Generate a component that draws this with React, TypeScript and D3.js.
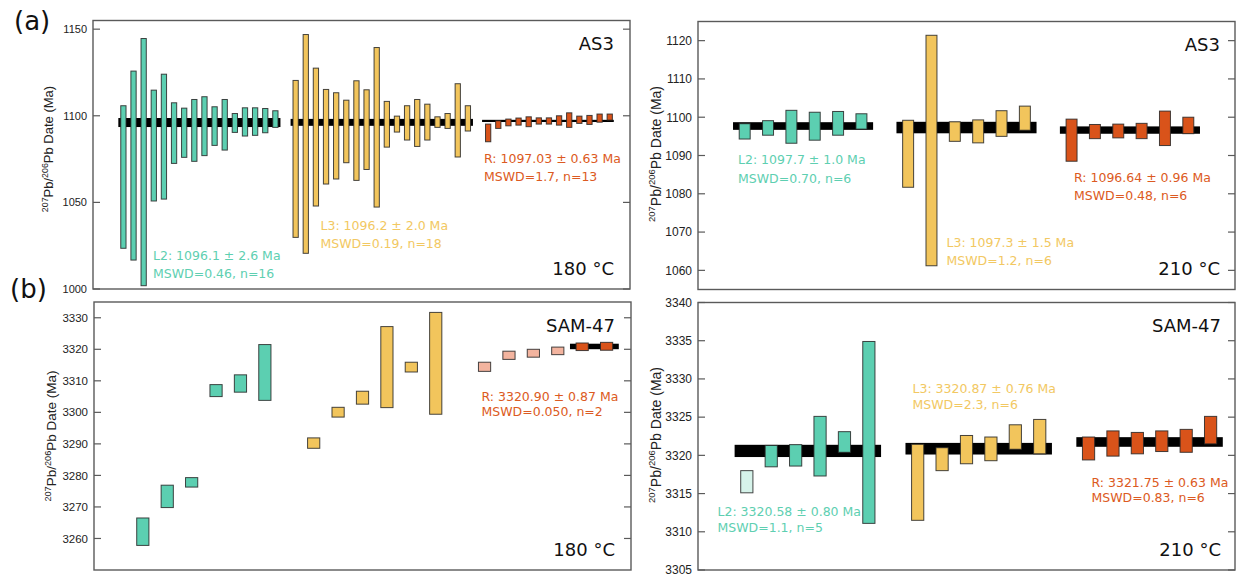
import React from "react";
import * as d3 from "d3";

type Range = [number, number]; // [low, high] of each 2σ date

// (a) AS3, 180 °C
const as3_180_L2: Range[] = [
  [1023.5, 1105.8], [1016.7, 1125.8], [1001.9, 1144.6], [1050.8, 1114.8],
  [1051.9, 1124.0], [1072.5, 1107.5], [1076.0, 1104.4], [1073.7, 1109.4],
  [1077.0, 1111.0], [1082.9, 1105.2], [1080.2, 1109.4], [1090.4, 1101.3],
  [1088.3, 1104.6], [1088.7, 1104.6], [1090.2, 1104.2], [1093.3, 1102.9],
];
const as3_180_L3: Range[] = [
  [1029.8, 1120.4], [1020.6, 1146.9], [1047.9, 1127.5], [1060.6, 1115.2],
  [1063.5, 1113.3], [1072.9, 1109.0], [1062.7, 1120.2], [1069.0, 1115.0],
  [1047.3, 1139.4], [1081.9, 1108.3], [1090.6, 1099.8], [1086.0, 1105.8],
  [1082.3, 1109.4], [1086.0, 1106.7], [1093.3, 1099.4], [1092.7, 1101.3],
  [1076.2, 1118.5], [1091.2, 1105.8],
];
const as3_180_R: Range[] = [
  [1085.0, 1095.2], [1092.7, 1097.1], [1094.2, 1098.1], [1094.6, 1098.7],
  [1093.7, 1099.4], [1095.2, 1098.8], [1095.2, 1098.8], [1094.6, 1100.0],
  [1093.3, 1101.7], [1095.6, 1099.8], [1095.0, 1100.2], [1096.3, 1101.0],
  [1097.5, 1101.0],
];

// (a) AS3, 210 °C
const as3_210_L2: Range[] = [
  [1094.3, 1098.3], [1095.3, 1099.1], [1093.2, 1101.8],
  [1094.0, 1101.3], [1095.3, 1101.5], [1096.9, 1100.9],
];
const as3_210_L3: Range[] = [
  [1081.7, 1099.2], [1061.2, 1121.4], [1093.7, 1098.8],
  [1093.3, 1099.3], [1095.0, 1101.7], [1096.6, 1102.9],
];
const as3_210_R: Range[] = [
  [1088.5, 1099.5], [1094.4, 1098.1], [1094.6, 1098.2],
  [1094.4, 1098.4], [1092.6, 1101.6], [1095.7, 1100.0],
];

// (b) SAM-47, 180 °C
const sam_180_L2: Range[] = [
  [3257.8, 3266.5], [3269.8, 3276.9], [3276.3, 3279.3],
  [3305.0, 3308.8], [3306.4, 3311.9], [3303.8, 3321.5],
];
const sam_180_L3: Range[] = [
  [3288.6, 3291.9], [3298.5, 3301.6], [3302.6, 3306.7],
  [3301.5, 3327.2], [3312.8, 3315.9], [3299.4, 3331.7],
];
const sam_180_R: Range[] = [
  [3313.0, 3315.9], [3316.8, 3319.4], [3317.5, 3320.0],
  [3318.3, 3320.7], [3319.6, 3322.0], [3319.7, 3322.2],
];

// (b) SAM-47, 210 °C
const sam_210_L2: Range[] = [
  [3315.1, 3318.0], [3318.5, 3321.3], [3318.6, 3321.4],
  [3317.3, 3325.1], [3320.4, 3323.1], [3311.1, 3334.9],
];
const sam_210_L3: Range[] = [
  [3311.5, 3321.45], [3318.0, 3321.0], [3318.9, 3322.6],
  [3319.3, 3322.4], [3320.8, 3324.0], [3320.2, 3324.7],
];
const sam_210_R: Range[] = [
  [3319.4, 3322.4], [3319.9, 3323.2], [3320.2, 3323.0],
  [3320.5, 3323.2], [3320.4, 3323.4], [3321.5, 3325.1],
];

// weighted means [mean, 2σ]
const mean_as3_180 = { L2: [1096.1, 2.6], L3: [1096.2, 2.0], R: [1097.03, 0.63] };
const mean_as3_210 = { L2: [1097.7, 1.0], L3: [1097.3, 1.5], R: [1096.64, 0.96] };
const mean_sam_180 = { R: [3320.9, 0.87] };
const mean_sam_210 = { L2: [3320.58, 0.8], L3: [3320.87, 0.76], R: [3321.75, 0.63] };

const ticks_as3_180 = [1000, 1050, 1100, 1150];
const ticks_as3_210 = [1060, 1070, 1080, 1090, 1100, 1110, 1120];
const ticks_sam_180 = [3260, 3270, 3280, 3290, 3300, 3310, 3320, 3330];
const ticks_sam_210 = [3305, 3310, 3315, 3320, 3325, 3330, 3335, 3340];

const TEAL = "#5ccfb1";
const YELLOW = "#f2c55c";
const ORANGE = "#d9531a";
const TEAL_X = "#d6f3ea";
const ORANGE_X = "#f3b49f";
const TEXT_TEAL = "#5ecfb1";
const TEXT_YELLOW = "#f2c862";
const TEXT_ORANGE = "#dc5a22";

interface Group {
  bars: Range[];
  start: number;
  fill: string;
  excluded?: number[];
  exFill?: string;
  band?: { m: number[]; from: number; to: number };
}
interface Note { x: number; y: number; lines: string[]; color: string; gap: number }
interface PanelCfg {
  left: number; right: number; top: number; bottom: number;
  xDomain: [number, number]; yDomain: [number, number];
  ticks: number[]; tickFont: number; labelFont: number;
  labelX: number; labelY: number;
  barFrac: number;
  groups: Group[];
  notes: Note[];
  sample: string; temp: string; textRight: number;
}

const panels: PanelCfg[] = [
  {
    left: 93, right: 630, top: 20.5, bottom: 289,
    xDomain: [-3, 50], yDomain: [1000, 1155],
    ticks: ticks_as3_180, tickFont: 11, labelFont: 13, labelX: 53, labelY: 149,
    barFrac: 0.52,
    groups: [
      { bars: as3_180_L2, start: 0, fill: TEAL, band: { m: mean_as3_180.L2, from: 0, to: 15 } },
      { bars: as3_180_L3, start: 17, fill: YELLOW, band: { m: mean_as3_180.L3, from: 17, to: 34 } },
      { bars: as3_180_R, start: 36, fill: ORANGE, band: { m: mean_as3_180.R, from: 35.9, to: 47.9 } },
    ],
    notes: [
      { x: 153, y: 259.5, lines: ["L2: 1096.1 ± 2.6 Ma", "MSWD=0.46, n=16"], color: TEXT_TEAL, gap: 18.5 },
      { x: 320.5, y: 230, lines: ["L3: 1096.2 ± 2.0 Ma", "MSWD=0.19, n=18"], color: TEXT_YELLOW, gap: 18.2 },
      { x: 484, y: 163, lines: ["R: 1097.03 ± 0.63 Ma", "MSWD=1.7, n=13"], color: TEXT_ORANGE, gap: 18 },
    ],
    sample: "AS3", temp: "180 °C", textRight: 614,
  },
  {
    left: 698, right: 1235, top: 21.5, bottom: 289.5,
    xDomain: [-2, 21], yDomain: [1055, 1125],
    ticks: ticks_as3_210, tickFont: 12, labelFont: 14, labelX: 661, labelY: 154,
    barFrac: 0.47,
    groups: [
      { bars: as3_210_L2, start: 0, fill: TEAL, band: { m: mean_as3_210.L2, from: 0, to: 5 } },
      { bars: as3_210_L3, start: 7, fill: YELLOW, band: { m: mean_as3_210.L3, from: 7, to: 12 } },
      { bars: as3_210_R, start: 14, fill: ORANGE, band: { m: mean_as3_210.R, from: 14, to: 19 } },
    ],
    notes: [
      { x: 738, y: 164, lines: ["L2: 1097.7 ± 1.0 Ma", "MSWD=0.70, n=6"], color: TEXT_TEAL, gap: 19 },
      { x: 946.5, y: 246.5, lines: ["L3: 1097.3 ± 1.5 Ma", "MSWD=1.2, n=6"], color: TEXT_YELLOW, gap: 18.5 },
      { x: 1074, y: 181.5, lines: ["R: 1096.64 ± 0.96 Ma", "MSWD=0.48, n=6"], color: TEXT_ORANGE, gap: 18.7 },
    ],
    sample: "AS3", temp: "210 °C", textRight: 1220,
  },
  {
    left: 94, right: 631, top: 302, bottom: 570,
    xDomain: [-2, 20], yDomain: [3250, 3335],
    ticks: ticks_sam_180, tickFont: 11.5, labelFont: 13.5, labelX: 56, labelY: 436,
    barFrac: 0.5,
    groups: [
      { bars: sam_180_L2, start: 0, fill: TEAL },
      { bars: sam_180_L3, start: 7, fill: YELLOW },
      {
        bars: sam_180_R, start: 14, fill: ORANGE, excluded: [0, 1, 2, 3], exFill: ORANGE_X,
        band: { m: mean_sam_180.R, from: 18, to: 19 },
      },
    ],
    notes: [
      { x: 481.5, y: 400.5, lines: ["R: 3320.90 ± 0.87 Ma", "MSWD=0.050, n=2"], color: TEXT_ORANGE, gap: 15 },
    ],
    sample: "SAM-47", temp: "180 °C", textRight: 615,
  },
  {
    left: 698, right: 1235, top: 302.5, bottom: 570,
    xDomain: [-2, 20], yDomain: [3305, 3340],
    ticks: ticks_sam_210, tickFont: 12, labelFont: 14, labelX: 661, labelY: 435,
    barFrac: 0.5,
    groups: [
      {
        bars: sam_210_L2, start: 0, fill: TEAL, excluded: [0], exFill: TEAL_X,
        band: { m: mean_sam_210.L2, from: 0, to: 5 },
      },
      { bars: sam_210_L3, start: 7, fill: YELLOW, band: { m: mean_sam_210.L3, from: 7, to: 12 } },
      { bars: sam_210_R, start: 14, fill: ORANGE, band: { m: mean_sam_210.R, from: 14, to: 19 } },
    ],
    notes: [
      { x: 717.5, y: 516, lines: ["L2: 3320.58 ± 0.80 Ma", "MSWD=1.1, n=5"], color: TEXT_TEAL, gap: 16.3 },
      { x: 912.5, y: 393, lines: ["L3: 3320.87 ± 0.76 Ma", "MSWD=2.3, n=6"], color: TEXT_YELLOW, gap: 15.7 },
      { x: 1091.5, y: 487, lines: ["R: 3321.75 ± 0.63 Ma", "MSWD=0.83, n=6"], color: TEXT_ORANGE, gap: 15.3 },
    ],
    sample: "SAM-47", temp: "210 °C", textRight: 1221,
  },
];

const NOTE_FONT = "'DejaVu Sans', Verdana, sans-serif";
const AXIS_FONT = "'Liberation Sans', Arial, Helvetica, sans-serif";

function Panel({ p, id }: { p: PanelCfg; id: number }) {
  const x = d3.scaleLinear().domain(p.xDomain).range([p.left, p.right]);
  const y = d3.scaleLinear().domain(p.yDomain).range([p.bottom, p.top]);
  const slot = x(1) - x(0);
  const bw = slot * p.barFrac;
  const clip = `clip-${id}`;

  return (
    <g>
      <defs>
        <clipPath id={clip}>
          <rect x={p.left} y={p.top} width={p.right - p.left} height={p.bottom - p.top} />
        </clipPath>
      </defs>

      <g clipPath={`url(#${clip})`}>
        {/* weighted mean bands */}
        {p.groups.map((g, gi) =>
          g.band ? (
            <rect
              key={"b" + gi}
              x={x(g.band.from - 0.5)}
              width={x(g.band.to + 0.5) - x(g.band.from - 0.5)}
              y={y(g.band.m[0] + g.band.m[1])}
              height={Math.max(2, y(g.band.m[0] - g.band.m[1]) - y(g.band.m[0] + g.band.m[1]))}
              fill="#000"
            />
          ) : null
        )}
        {/* individual dates */}
        {p.groups.map((g, gi) =>
          g.bars.map((d, i) => {
            const ex = g.excluded && g.excluded.includes(i);
            return (
              <rect
                key={gi + "-" + i}
                x={x(g.start + i) - bw / 2}
                width={bw}
                y={y(d[1])}
                height={y(d[0]) - y(d[1])}
                fill={ex ? g.exFill : g.fill}
                stroke="#262626"
                strokeOpacity={0.85}
                strokeWidth={1}
              />
            );
          })
        )}
      </g>

      {/* frame */}
      <rect
        x={p.left}
        y={p.top}
        width={p.right - p.left}
        height={p.bottom - p.top}
        fill="none"
        stroke="#5a5a5a"
        strokeWidth={1.4}
      />
      {p.ticks.map((t) => (
        <g key={t}>
          <line x1={p.left} x2={p.left + 7} y1={y(t)} y2={y(t)} stroke="#5a5a5a" strokeWidth={1.2} />
          <line x1={p.right} x2={p.right - 7} y1={y(t)} y2={y(t)} stroke="#5a5a5a" strokeWidth={1.2} />
          <text
            x={p.left - 6}
            y={y(t)}
            dy="0.36em"
            textAnchor="end"
            fontFamily={AXIS_FONT}
            fontSize={p.tickFont}
            fill="#222"
          >
            {t}
          </text>
        </g>
      ))}

      {/* y label */}
      <text
        transform={`translate(${p.labelX},${p.labelY}) rotate(-90)`}
        textAnchor="middle"
        fontFamily={AXIS_FONT}
        fontSize={p.labelFont}
        fill="#222"
      >
        <tspan fontSize={p.labelFont * 0.68} dy={-p.labelFont * 0.4}>207</tspan>
        <tspan dy={p.labelFont * 0.4}>Pb/</tspan>
        <tspan fontSize={p.labelFont * 0.68} dy={-p.labelFont * 0.4}>206</tspan>
        <tspan dy={p.labelFont * 0.4}>Pb Date (Ma)</tspan>
      </text>

      {/* annotations */}
      {p.notes.map((n, ni) => (
        <text key={ni} fontFamily={NOTE_FONT} fontSize={12.5} fill={n.color}>
          {n.lines.map((l, li) => (
            <tspan key={li} x={n.x} y={n.y + li * n.gap}>
              {l}
            </tspan>
          ))}
        </text>
      ))}
      <text x={p.textRight} y={p.top + 29.5} textAnchor="end" fontFamily={NOTE_FONT} fontSize={18} fill="#111">
        {p.sample}
      </text>
      <text x={p.textRight} y={p.bottom - 14.5} textAnchor="end" fontFamily={NOTE_FONT} fontSize={18} fill="#111">
        {p.temp}
      </text>
    </g>
  );
}

export default function App() {
  return (
    <div style={{ position: "absolute", left: 0, top: 0 }}>
      <svg width={1238} height={577} style={{ display: "block", background: "#fff" }}>
        {panels.map((p, i) => (
          <Panel key={i} p={p} id={i} />
        ))}
        <text x={14} y={30} fontFamily={NOTE_FONT} fontSize={26} fill="#111">(a)</text>
        <text x={10} y={298} fontFamily={NOTE_FONT} fontSize={26} fill="#111">(b)</text>
      </svg>
    </div>
  );
}
